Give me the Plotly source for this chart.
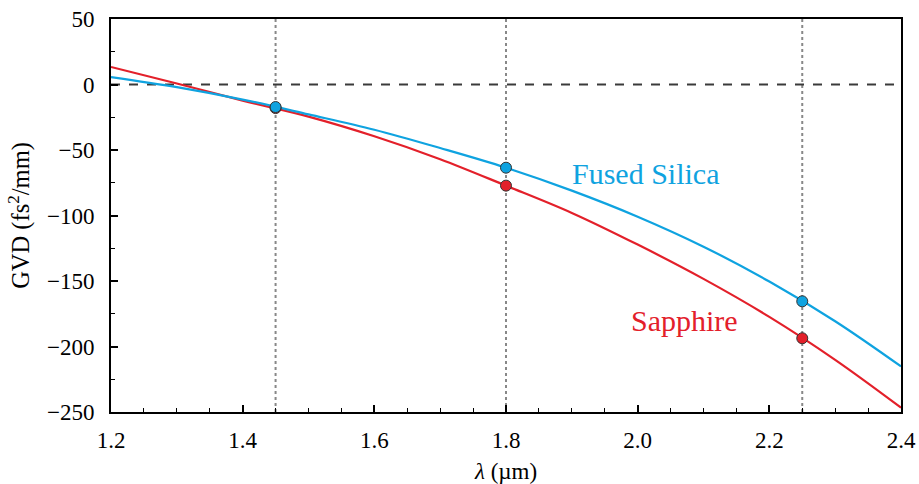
import plotly.graph_objects as go

wavelength = [1.2, 1.3, 1.4, 1.5, 1.6, 1.7, 1.8, 1.9, 2.0, 2.1, 2.2, 2.3, 2.4]
fused_silica = [5.7, -2.0, -11.5, -22.8, -34.5, -48.5, -63.5, -81.0, -100.9, -123.8, -150.4, -180.7, -215.2]
sapphire = [13.4, 0.8, -12.3, -24.5, -39.5, -57.0, -77.2, -98.0, -122.2, -148.4, -177.4, -210.2, -246.7]

marker_wl = [1.45, 1.8, 2.25]
fs_markers = [-17.2, -63.5, -165.5]
sa_markers = [-18.0, -77.2, -193.7]

BLUE = "#0fa3e0"
RED = "#e3202a"
FONT = "Liberation Serif"

fig = go.Figure()
fig.add_trace(go.Scatter(x=wavelength, y=sapphire, mode="lines",
                         line=dict(color=RED, width=2.2, shape="spline"), showlegend=False))
fig.add_trace(go.Scatter(x=wavelength, y=fused_silica, mode="lines",
                         line=dict(color=BLUE, width=2.2, shape="spline"), showlegend=False))
fig.add_trace(go.Scatter(x=marker_wl, y=sa_markers, mode="markers",
                         marker=dict(color=RED, size=11, line=dict(color="#333333", width=1)),
                         showlegend=False))
fig.add_trace(go.Scatter(x=marker_wl, y=fs_markers, mode="markers",
                         marker=dict(color=BLUE, size=11, line=dict(color="#333333", width=1)),
                         showlegend=False))

for xv in marker_wl:
    fig.add_vline(x=xv, line=dict(color="#888888", width=2, dash="dot"), layer="below")
fig.add_hline(y=0, line=dict(color="#3a3a3a", width=1.8, dash="dash"), layer="below")

fig.add_annotation(x=2.013, y=-67.6, text="Fused Silica", showarrow=False,
                   font=dict(family=FONT, size=30, color=BLUE))
fig.add_annotation(x=2.071, y=-180, text="Sapphire", showarrow=False,
                   font=dict(family=FONT, size=30, color=RED))

axis_common = dict(showline=True, linecolor="black", linewidth=2, mirror=True,
                   ticks="inside", ticklen=7, tickwidth=1.5, tickcolor="black",
                   showgrid=False, zeroline=False, automargin=False,
                   tickfont=dict(family=FONT, size=23, color="black"))

fig.update_xaxes(range=[1.2, 2.4], dtick=0.2, tick0=1.2, tickformat=".1f",
                 ticklabelstandoff=6,
                 minor=dict(ticks="inside", dtick=0.05, ticklen=4, tickwidth=1.2, tickcolor="black"),
                 title=dict(text="<i>λ</i> (µm)", font=dict(family=FONT, size=23, color="black"), standoff=12),
                 **axis_common)
fig.update_yaxes(range=[-250, 50], dtick=50,
                 ticklabelstandoff=10,
                 minor=dict(ticks="inside", dtick=25, ticklen=4, tickwidth=1.2, tickcolor="black"),
                 title=dict(text="GVD (fs<sup>2</sup>/mm)", font=dict(family=FONT, size=24.5, color="black"), standoff=10),
                 **axis_common)

fig.update_layout(width=919, height=484, margin=dict(l=111, r=18, t=19, b=72),
                  plot_bgcolor="white", paper_bgcolor="white",
                  font=dict(family=FONT, color="black"))

fig.write_html("out.html")
